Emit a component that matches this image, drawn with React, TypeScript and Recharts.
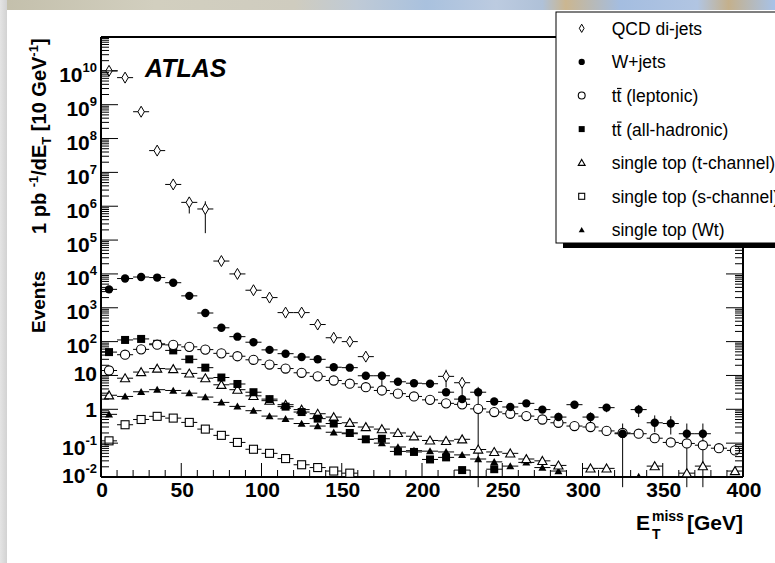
import React from 'react';
import { ScatterChart, Scatter, XAxis, YAxis, ErrorBar } from 'recharts';

const FONT = '"Liberation Sans", Arial, Helvetica, sans-serif';

// bin centres (10 GeV bins)
const bins = [5, 15, 25, 35, 45, 55, 65, 75, 85, 95, 105, 115, 125, 135, 145, 155, 165, 175, 185, 195,
  205, 215, 225, 235, 245, 255, 265, 275, 285, 295, 305, 315, 325, 335, 345, 355, 365, 375, 385, 395];
const binHalfWidth = 5;

const qcd = [1e10, 6.3e9, 6.2e8, 4.4e7, 4.4e6, 1.3e6, 8.3e5, 2.4e4, 1.0e4, 3.3e3,
  2.0e3, 720, 720, 320, 130, 100, 36, null, null, null,
  null, 9.4, 6.1, null, null, null, null, null, null, null,
  null, null, null, null, null, null, null, null, null, null];
const wjets = [3500, 7300, 8100, 7800, 5500, 2250, 700, 256, 140, 96,
  57, 44, 35, 30, 17.5, 17, 9.8, 9.8, 6.5, 5.9,
  5.7, 3.2, 2.0, 3.2, 1.7, 1.17, 1.5, 0.98, 0.59, 1.37,
  0.59, 1.12, 0.19, 0.98, 0.40, 0.38, 0.19, 0.19, null, null];
const ttLep = [14, 41, 59, 81, 80, 70, 58, 45, 37, 29,
  21, 16, 12, 9.4, 7.1, 5.7, 4.5, 3.6, 2.9, 2.4,
  1.9, 1.5, 1.4, 1.03, 0.83, 0.74, 0.63, 0.50, 0.40, 0.32,
  0.30, 0.23, 0.20, 0.19, 0.14, 0.105, 0.098, 0.087, 0.071, 0.061];
const ttHad = [49, 112, 120, 86, 55, 30, 17, 8.7, 5.6, 3.2,
  2.0, 1.2, 0.83, 0.53, 0.38, 0.20, 0.13, 0.135, 0.057, 0.055,
  0.033, 0.038, 0.016, null, 0.017, null, null, null, null, null,
  null, null, null, null, null, null, null, null, null, null];
const topT = [2.6, 8.3, 12.6, 16, 15.5, 11.5, 8.3, 5.3, 3.8, 2.5,
  1.8, 1.37, 0.98, 0.74, 0.59, 0.40, 0.30, 0.26, 0.20, 0.16,
  0.12, 0.117, 0.13, 0.065, 0.055, 0.050, 0.034, 0.030, 0.022, null,
  0.018, 0.018, null, null, 0.021, null, 0.013, 0.021, null, 0.015];
const topS = [0.117, 0.35, 0.50, 0.62, 0.55, 0.41, 0.26, 0.17, 0.105, 0.066,
  0.050, 0.035, 0.023, 0.019, 0.015, 0.013, null, null, null, null,
  null, null, null, null, null, null, null, null, null, null,
  null, null, null, null, null, null, null, null, null, null];
const topWt = [0.71, 2.4, 3.3, 3.8, 3.6, 3.0, 2.3, 1.6, 1.22, 0.91,
  0.63, 0.52, 0.38, 0.32, 0.21, 0.19, 0.13, 0.10, 0.077, 0.06,
  0.058, 0.055, 0.045, 0.034, 0.028, 0.021, 0.027, 0.019, 0.015, null,
  null, null, null, 0.0102, null, null, null, null, null, null];

// vertical errors: [bin centre, down, up]
const qcdErr = [[55, 6.9e5, 5.5e5], [65, 6.7e5, 5.7e5], [215, 5, 5.4], [225, 3.8, 1.8]];
const wjetsErr = [[175, 5, 3], [235, 3.195, 1.4], [285, 0.2, 0.2], [295, 0.35, 0.35], [305, 0.2, 0.22],
  [315, 0.3, 0.3], [325, 0.185, 0.19], [335, 0.39, 0.37], [345, 0.19, 0.26], [355, 0.2, 0.25],
  [365, 0.185, 0.19], [375, 0.185, 0.19]];

const xTicks = [0, 10, 20, 30, 40, 50, 60, 70, 80, 90, 100, 110, 120, 130, 140, 150, 160, 170, 180, 190, 200,
  210, 220, 230, 240, 250, 260, 270, 280, 290, 300, 310, 320, 330, 340, 350, 360, 370, 380, 390, 400];
const xLabels = [0, 50, 100, 150, 200, 250, 300, 350, 400];
const yDecades = [-2, -1, 0, 1, 2, 3, 4, 5, 6, 7, 8, 9, 10, 11];
const yLabelled = [-2, -1, 0, 1, 2, 3, 4, 5, 6, 7, 8, 9, 10];
const minorSteps = [2, 3, 4, 5, 6, 7, 8, 9];
const yTicks = yDecades.flatMap((e) =>
  e === 11 ? [10 ** e] : [10 ** e, ...minorSteps.map((m) => m * 10 ** e)]);

const PLOT = { left: 101, right: 743, top: 37, bottom: 477 };

type Kind = 'diamondOpen' | 'circleFilled' | 'circleOpen' | 'squareFilled' | 'triangleOpen' | 'squareOpen' | 'triangleFilled';

const drawMarker = (kind: Kind, cx: number, cy: number, s = 1) => {
  switch (kind) {
    case 'diamondOpen': {
      const w = 3.2 * s, h = 5.5 * s;
      return <path d={`M${cx},${cy - h}L${cx + w},${cy}L${cx},${cy + h}L${cx - w},${cy}Z`} fill="#fff" stroke="#000" strokeWidth={1} />;
    }
    case 'circleFilled':
      return <circle cx={cx} cy={cy} r={4.2 * s} fill="#000" />;
    case 'circleOpen':
      return <circle cx={cx} cy={cy} r={4.6 * s} fill="#fff" stroke="#000" strokeWidth={1.1} />;
    case 'squareFilled': {
      const a = 4 * s;
      return <rect x={cx - a} y={cy - a} width={2 * a} height={2 * a} fill="#000" />;
    }
    case 'squareOpen': {
      const a = 4 * s;
      return <rect x={cx - a} y={cy - a} width={2 * a} height={2 * a} fill="#fff" stroke="#000" strokeWidth={1.1} />;
    }
    case 'triangleOpen': {
      const w = 4.6 * s, h = 8 * s;
      return <path d={`M${cx},${cy - h * 0.55}L${cx + w},${cy + h * 0.45}L${cx - w},${cy + h * 0.45}Z`} fill="#fff" stroke="#000" strokeWidth={1.1} />;
    }
    case 'triangleFilled': {
      const w = 4 * s, h = 7 * s;
      return <path d={`M${cx},${cy - h * 0.55}L${cx + w},${cy + h * 0.45}L${cx - w},${cy + h * 0.45}Z`} fill="#000" />;
    }
  }
  return null;
};

const buildSeries = (values: (number | null)[], errs: number[][] = []) =>
  bins.flatMap((x, i) => {
    const y = values[i];
    if (y == null) return [];
    const e = errs.find((r) => r[0] === x);
    return [{ x, y, ex: binHalfWidth, ey: e ? [e[1], e[2]] : [0, 0] }];
  });

const series: { name: string; kind: Kind; data: any[] }[] = [
  { name: 'QCD di-jets', kind: 'diamondOpen', data: buildSeries(qcd, qcdErr) },
  { name: 'W+jets', kind: 'circleFilled', data: buildSeries(wjets, wjetsErr) },
  { name: 'tt (leptonic)', kind: 'circleOpen', data: buildSeries(ttLep) },
  { name: 'tt (all-hadronic)', kind: 'squareFilled', data: buildSeries(ttHad) },
  { name: 'single top (t-channel)', kind: 'triangleOpen', data: buildSeries(topT) },
  { name: 'single top (s-channel)', kind: 'squareOpen', data: buildSeries(topS) },
  { name: 'single top (Wt)', kind: 'triangleFilled', data: buildSeries(topWt) },
];
// draw order: small ones first so the big ones sit on top
const drawOrder = [5, 6, 4, 3, 2, 1, 0];

const isDecade = (v: number) => {
  const e = Math.round(Math.log10(v));
  return Math.abs(v - 10 ** e) < 1e-6 * v ? e : null;
};

const LeftYTick = (props: any) => {
  const { y, payload } = props;
  const e = isDecade(payload.value);
  const len = e !== null ? 17 : 8;
  let label = null;
  if (e !== null && yLabelled.includes(e)) {
    const dy = e === 0 ? 7.5 : e === 1 ? 5.5 : e === -2 ? 6 : 11.5;
    label = (
      <text x={97} y={y + dy} textAnchor="end" fontFamily={FONT} fontWeight="bold" fontSize={21} fill="#000">
        {e === 0 ? '1' : e === 1 ? '10' : <>10<tspan dy={-10} fontSize={13}>{String(e)}</tspan></>}
      </text>
    );
  }
  return (
    <g>
      <line x1={PLOT.left} x2={PLOT.left + len} y1={y} y2={y} stroke="#000" strokeWidth={1} />
      {label}
    </g>
  );
};

const RightYTick = (props: any) => {
  const { y, payload } = props;
  const len = isDecade(payload.value) !== null ? 17 : 8;
  return <line x1={PLOT.right} x2={PLOT.right - len} y1={y} y2={y} stroke="#000" strokeWidth={1} />;
};

const BottomXTick = (props: any) => {
  const { x, payload } = props;
  const major = xLabels.includes(payload.value);
  return (
    <g>
      <line x1={x} x2={x} y1={PLOT.bottom} y2={PLOT.bottom - (major ? 14 : 7)} stroke="#000" strokeWidth={1} />
      {major && (
        <text x={x + 1} y={497} textAnchor="middle" fontFamily={FONT} fontWeight="bold" fontSize={21} fill="#000">
          {payload.value}
        </text>
      )}
    </g>
  );
};

const TopXTick = (props: any) => {
  const { x, payload } = props;
  const major = xLabels.includes(payload.value);
  return <line x1={x} x2={x} y1={PLOT.top} y2={PLOT.top + (major ? 14 : 7)} stroke="#000" strokeWidth={1} />;
};

const frame = { stroke: '#000', strokeWidth: 2 };

export default function App() {
  const legendY = (i: number) => 28.3 + 33.6 * i;
  return (
    <div style={{ position: 'absolute', left: 0, top: 0, width: 775, height: 563, background: '#fff', overflow: 'hidden' }}>
      <div style={{ position: 'absolute', left: 0, top: 0, width: 775, height: 10,
        background: 'linear-gradient(to right, #c3bfab 0%, #d2cfbf 20%, #cfccbf 38%, #bfcad6 46%, #a9c1de 55%, #bccbe0 64%, #afc1d8 70%, #cbb690 73%, #a4bde0 80%, #b1c5e2 90%, #c4b08c 94%, #a7c2e8 100%)' }} />
      <div style={{ position: 'absolute', left: 0, top: 0, width: 7, height: 563,
        background: 'linear-gradient(to right, #e4e4e4, #d2d2d2)' }} />
      <div style={{ position: 'absolute', left: 0, top: 0 }}>
        <ScatterChart width={775} height={563}
          margin={{ top: PLOT.top - 1, right: 775 - PLOT.right - 1, bottom: 563 - PLOT.bottom - 1, left: PLOT.left - 1 }}>
          <XAxis xAxisId="bottom" type="number" dataKey="x" domain={[0, 400]} allowDataOverflow ticks={xTicks} interval={0}
            height={1} tickLine={false} axisLine={frame} tick={BottomXTick} />
          <XAxis xAxisId="top" orientation="top" type="number" domain={[0, 400]} allowDataOverflow ticks={xTicks} interval={0}
            height={1} tickLine={false} axisLine={frame} tick={TopXTick} />
          <YAxis yAxisId="left" type="number" dataKey="y" scale="log" domain={[0.01, 1e11]} allowDataOverflow ticks={yTicks}
            interval={0} width={1} tickLine={false} axisLine={frame} tick={LeftYTick} />
          <YAxis yAxisId="right" orientation="right" type="number" scale="log" domain={[0.01, 1e11]} allowDataOverflow
            ticks={yTicks} interval={0} width={1} tickLine={false} axisLine={frame} tick={RightYTick} />
          {drawOrder.map((idx) => {
            const s = series[idx];
            return (
              <Scatter key={s.name} name={s.name} data={s.data} xAxisId="bottom" yAxisId="left" isAnimationActive={false}
                legendType="none" shape={(p: any) => drawMarker(s.kind, p.cx, p.cy)}>
                <ErrorBar dataKey="ex" direction="x" width={0} stroke="#000" strokeWidth={1} />
                <ErrorBar dataKey="ey" direction="y" width={0} stroke="#000" strokeWidth={1} />
              </Scatter>
            );
          })}
        </ScatterChart>
      </div>
      <svg width={775} height={563} style={{ position: 'absolute', left: 0, top: 0, pointerEvents: 'none' }}>
        <text x={145} y={77} fontFamily={FONT} fontWeight="bold" fontStyle="italic" fontSize={25} fill="#000">ATLAS</text>
        <text transform="translate(45,333) rotate(-90)" fontFamily={FONT} fontWeight="bold" fontSize={19} fill="#000">Events</text>
        <text transform="translate(46,234) rotate(-90)" fontFamily={FONT} fontWeight="bold" fontSize={20} fill="#000">
          1 pb <tspan dy={-8} fontSize={13}>-1</tspan><tspan dy={8}>/dE</tspan><tspan dy={5} fontSize={13}>T</tspan>
          <tspan dy={-5}> [10 GeV</tspan><tspan dy={-8} fontSize={13}>-1</tspan><tspan dy={8}>]</tspan>
        </text>
        <text x={636} y={530} fontFamily={FONT} fontWeight="bold" fontSize={21} fill="#000">E</text>
        <text x={652} y={521} fontFamily={FONT} fontWeight="bold" fontSize={14} fill="#000">miss</text>
        <text x={652} y={539} fontFamily={FONT} fontWeight="bold" fontSize={14} fill="#000">T</text>
        <text x={743} y={530} textAnchor="end" fontFamily={FONT} fontWeight="bold" fontSize={21} fill="#000">[GeV]</text>

        <rect x={563} y={243} width={220} height={5} fill="#000" />
        <rect x={556} y={12} width={230} height={231} fill="#fff" stroke="#000" strokeWidth={1} />
        {series.map((s, i) => {
          const cy = legendY(i);
          const isTT = s.name.startsWith('tt');
          return (
            <g key={s.name}>
              {drawMarker(s.kind, 581.7, cy, 0.75)}
              <text x={611.7} y={cy + 6.5} fontFamily={FONT} fontSize={17.5} fill="#000">{s.name}</text>
              {isTT && <line x1={617} x2={621.5} y1={cy - 7} y2={cy - 7} stroke="#000" strokeWidth={1.2} />}
            </g>
          );
        })}
      </svg>
    </div>
  );
}
